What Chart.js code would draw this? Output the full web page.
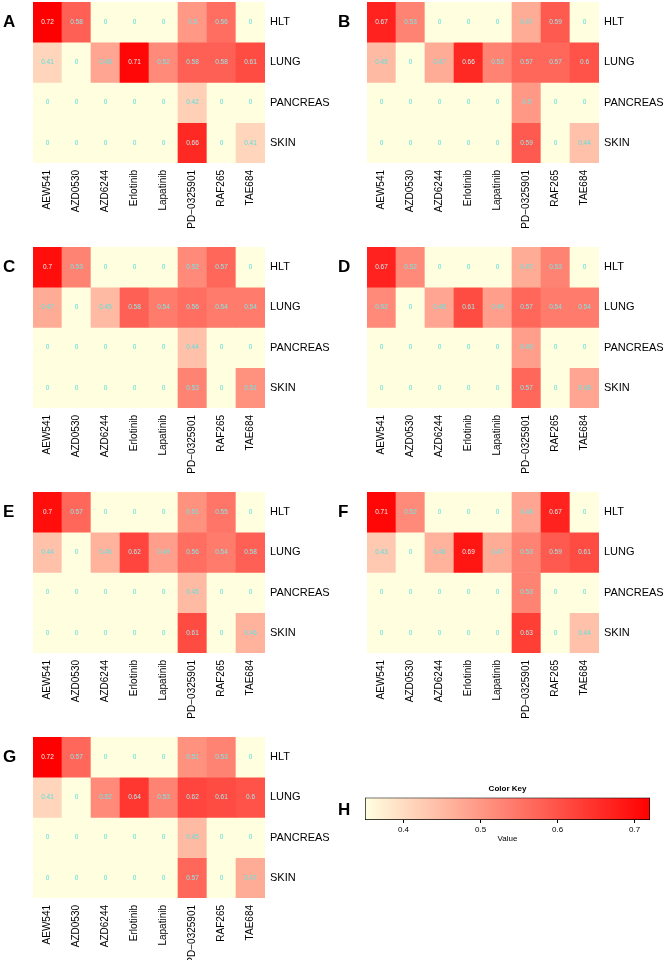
<!DOCTYPE html>
<html lang="en">
<head>
<meta charset="UTF-8">
<script src="https://cdn.jsdelivr.net/npm/chart.js@4.4.0/dist/chart.umd.min.js"></script>
<title>Drug response heatmaps</title>
<style>
  body { margin: 0; background: #fff; width: 669px; height: 960px; position: relative; overflow: hidden;
         font-family: "Liberation Sans", Arial, sans-serif; }
  .panel { position: absolute; }
  .letter { position: absolute; font-weight: bold; font-size: 17px; line-height: 17px; color: #000; }
</style>
</head>
<body>

<div class="panel" style="left:0;top:0"><canvas id="chartA" width="335" height="245"></canvas></div>
<div class="panel" style="left:334px;top:0"><canvas id="chartB" width="335" height="245"></canvas></div>
<div class="panel" style="left:0;top:245px"><canvas id="chartC" width="335" height="245"></canvas></div>
<div class="panel" style="left:334px;top:245px"><canvas id="chartD" width="335" height="245"></canvas></div>
<div class="panel" style="left:0;top:490px"><canvas id="chartE" width="335" height="245"></canvas></div>
<div class="panel" style="left:334px;top:490px"><canvas id="chartF" width="335" height="245"></canvas></div>
<div class="panel" style="left:0;top:735px"><canvas id="chartG" width="335" height="245"></canvas></div>
<div class="panel" style="left:335px;top:770px"><canvas id="chartH" width="334" height="74"></canvas></div>

<div class="letter" style="left:3px;top:13px">A</div>
<div class="letter" style="left:338px;top:13px">B</div>
<div class="letter" style="left:3px;top:258px">C</div>
<div class="letter" style="left:338px;top:258px">D</div>
<div class="letter" style="left:3px;top:503px">E</div>
<div class="letter" style="left:338px;top:503px">F</div>
<div class="letter" style="left:3px;top:748px">G</div>
<div class="letter" style="left:338px;top:801px">H</div>

<script>
// columns and rows
const drugs = ['AEW541', 'AZD0530', 'AZD6244', 'Erlotinib', 'Lapatinib', 'PD\u22120325901', 'RAF265', 'TAE684'];
const tissues = ['HLT', 'LUNG', 'PANCREAS', 'SKIN'];

// one row per tissue, one value per drug
const valuesA = [
    [0.72, 0.58, 0, 0, 0, 0.5, 0.56, 0],
    [0.41, 0, 0.48, 0.71, 0.52, 0.58, 0.58, 0.61],
    [0, 0, 0, 0, 0, 0.42, 0, 0],
    [0, 0, 0, 0, 0, 0.66, 0, 0.41]
];
const valuesB = [
    [0.67, 0.53, 0, 0, 0, 0.47, 0.59, 0],
    [0.45, 0, 0.47, 0.66, 0.53, 0.57, 0.57, 0.6],
    [0, 0, 0, 0, 0, 0.5, 0, 0],
    [0, 0, 0, 0, 0, 0.59, 0, 0.44]
];
const valuesC = [
    [0.7, 0.53, 0, 0, 0, 0.52, 0.57, 0],
    [0.47, 0, 0.45, 0.58, 0.54, 0.56, 0.54, 0.54],
    [0, 0, 0, 0, 0, 0.44, 0, 0],
    [0, 0, 0, 0, 0, 0.53, 0, 0.51]
];
const valuesD = [
    [0.67, 0.52, 0, 0, 0, 0.47, 0.53, 0],
    [0.52, 0, 0.48, 0.61, 0.49, 0.57, 0.54, 0.54],
    [0, 0, 0, 0, 0, 0.49, 0, 0],
    [0, 0, 0, 0, 0, 0.57, 0, 0.48]
];
const valuesE = [
    [0.7, 0.57, 0, 0, 0, 0.51, 0.55, 0],
    [0.44, 0, 0.46, 0.62, 0.49, 0.56, 0.54, 0.58],
    [0, 0, 0, 0, 0, 0.45, 0, 0],
    [0, 0, 0, 0, 0, 0.61, 0, 0.46]
];
const valuesF = [
    [0.71, 0.52, 0, 0, 0, 0.48, 0.67, 0],
    [0.43, 0, 0.46, 0.69, 0.47, 0.53, 0.59, 0.61],
    [0, 0, 0, 0, 0, 0.53, 0, 0],
    [0, 0, 0, 0, 0, 0.63, 0, 0.44]
];
const valuesG = [
    [0.72, 0.57, 0, 0, 0, 0.51, 0.53, 0],
    [0.41, 0, 0.52, 0.64, 0.53, 0.62, 0.61, 0.6],
    [0, 0, 0, 0, 0, 0.45, 0, 0],
    [0, 0, 0, 0, 0, 0.57, 0, 0.47]
];

// color key
const keyMin = 0.35;
const keyMax = 0.72;
const keyTicks = [0.4, 0.5, 0.6, 0.7];

const FONT = '"Liberation Sans", Arial, sans-serif';
Chart.defaults.font.family = FONT;
Chart.defaults.color = '#000';

function keyT(v) {
    let t = (v - keyMin) / (keyMax - keyMin);
    return Math.max(0, Math.min(1, t));
}

// lightyellow -> red
function cellColor(v) {
    const t = keyT(v);
    return 'rgb(255,' + Math.round(255 * (1 - t)) + ',' + Math.round(224 * (1 - t)) + ')';
}

// cyan notes, washed out only on the reddest cells
function noteColor(v) {
    const t = keyT(v);
    const r = Math.round(80 + 170 * t * t), g = Math.round(220 + 20 * t), b = Math.round(220 + 20 * t);
    return 'rgb(' + r + ',' + g + ',' + b + ')';
}

const cellNotes = {
    id: 'cellNotes',
    afterDatasetsDraw(chart) {
        const ctx = chart.ctx;
        ctx.save();
        ctx.font = '6.5px ' + FONT;
        ctx.textAlign = 'center';
        ctx.textBaseline = 'middle';
        chart.data.datasets.forEach((ds, i) => {
            chart.getDatasetMeta(i).data.forEach((bar, j) => {
                const v = ds.values[j];
                const p = bar.getProps(['x', 'y', 'base'], true);
                ctx.fillStyle = noteColor(v);
                ctx.fillText(String(v), p.x, (p.y + p.base) / 2);
            });
        });
        ctx.restore();
    }
};

function makeHeatmap(id, values) {
    const datasets = tissues.map((tissue, r) => ({
        label: tissue,
        data: drugs.map(() => [r, r + 1]),
        values: values[r],
        backgroundColor: values[r].map(cellColor),
        borderWidth: 0,
        barPercentage: 1,
        categoryPercentage: 1,
        grouped: false
    }));

    new Chart(document.getElementById(id), {
        type: 'bar',
        data: { labels: drugs, datasets: datasets },
        options: {
            responsive: false,
            animation: false,
            layout: { padding: { left: 33, top: 2, right: 0, bottom: 0 } },
            plugins: { legend: { display: false }, tooltip: { enabled: false } },
            scales: {
                x: {
                    grid: { display: false },
                    border: { display: false },
                    ticks: { autoSkip: false, minRotation: 90, maxRotation: 90, padding: -1,
                             font: { size: 10 }, color: '#000' },
                    afterFit: (scale) => { scale.height = 82; }
                },
                y: {
                    position: 'right',
                    min: 0,
                    max: 4,
                    reverse: true,
                    grid: { display: false, drawTicks: false },
                    border: { display: false },
                    afterBuildTicks: (scale) => {
                        scale.ticks = tissues.map((t, i) => ({ value: i + 0.5 }));
                    },
                    ticks: { padding: 5, font: { size: 11 }, color: '#000',
                             callback: (val, i) => tissues[i] },
                    afterFit: (scale) => {
                        scale.width = 70;
                        scale.paddingTop = 0;
                        scale.paddingBottom = 0;
                    }
                }
            }
        },
        plugins: [cellNotes]
    });
}

makeHeatmap('chartA', valuesA);
makeHeatmap('chartB', valuesB);
makeHeatmap('chartC', valuesC);
makeHeatmap('chartD', valuesD);
makeHeatmap('chartE', valuesE);
makeHeatmap('chartF', valuesF);
makeHeatmap('chartG', valuesG);

// color key bar
new Chart(document.getElementById('chartH'), {
    type: 'bar',
    data: {
        labels: ['key'],
        datasets: [{
            data: [[keyMin, keyMax]],
            backgroundColor: (c) => {
                const chart = c.chart;
                if (!chart.chartArea) return null;
                const xs = chart.scales.x;
                const g = chart.ctx.createLinearGradient(xs.getPixelForValue(keyMin), 0, xs.getPixelForValue(keyMax), 0);
                g.addColorStop(0, cellColor(keyMin));
                g.addColorStop(1, cellColor(keyMax));
                return g;
            },
            borderColor: '#000',
            borderWidth: 1,
            borderSkipped: false,
            barPercentage: 1,
            categoryPercentage: 1
        }]
    },
    options: {
        indexAxis: 'y',
        responsive: false,
        animation: false,
        layout: { padding: { left: 30, right: 19, top: 0, bottom: 0 } },
        plugins: {
            legend: { display: false },
            tooltip: { enabled: false },
            title: { display: true, text: 'Color Key', color: '#000',
                     font: { size: 8, weight: 'bold' }, padding: { top: 14, bottom: 4 } }
        },
        scales: {
            x: {
                min: keyMin,
                max: keyMax,
                afterBuildTicks: (scale) => {
                    scale.ticks = keyTicks.map(v => ({ value: v }));
                },
                grid: { drawOnChartArea: false, tickLength: 3, color: '#000' },
                border: { display: false },
                ticks: { padding: 2, font: { size: 8 }, color: '#000',
                         callback: (v) => String(v) },
                title: { display: true, text: 'Value', font: { size: 8 }, color: '#000',
                         padding: { top: 0, bottom: 0 } },
                afterFit: (scale) => { scale.height = 24; }
            },
            y: { display: false }
        }
    }
});
</script>

</body>
</html>
